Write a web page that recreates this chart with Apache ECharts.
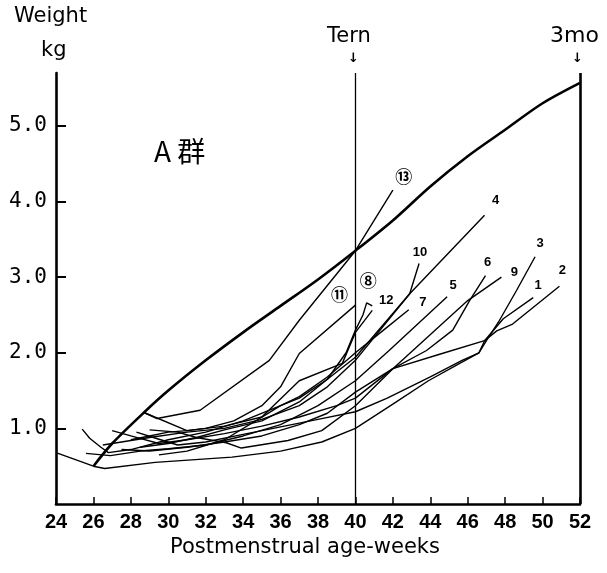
<!DOCTYPE html>
<html>
<head>
<meta charset="UTF-8">
<title>A群</title>
<style>html,body{margin:0;padding:0;background:#fff;}#charts{width:607px;height:573px;}</style>
<script src="https://cdn.jsdelivr.net/npm/echarts@6/dist/echarts.min.js"></script>
</head>
<body>
<div id="charts"></div>
<script>
// x ticks (postmenstrual weeks) and y ticks (kg)
var weekTicks = [24, 26, 28, 30, 32, 34, 36, 38, 40, 42, 44, 46, 48, 50, 52];
var kgTicks = [1, 2, 3, 4, 5];

// reference (standard) curve, drawn thick
var standard = [[26,0.5],[27,0.8],[28.7,1.21],[30,1.5],[32,1.9],[34,2.27],[36,2.62],[38,2.97],[40,3.35],[42,3.75],[44,4.2],[46,4.6],[48,4.95],[50,5.3],[52,5.57]];

// each infant: [week, kg]
var infant1 = [[27,0.97],[28,0.9],[29.5,0.8],[31,0.85],[33,0.93],[35,1.03],[37,1.15],[39,1.3],[40,1.4],[42,1.79],[44.5,1.98],[46.9,2.16],[47.9,2.45],[49.5,2.73]];
var infant2 = [[24,0.68],[26,0.5],[26.6,0.47],[29.3,0.55],[33.4,0.62],[36,0.7],[38.2,0.82],[40,1.0],[42,1.32],[43.9,1.63],[45.5,1.85],[46.6,2.0],[46.9,2.16],[47.55,2.29],[48.4,2.38],[50.9,2.88]];
var infant3 = [[28.3,0.95],[29.2,0.88],[30.5,0.78],[32,0.82],[34,0.92],[36,1.02],[38,1.12],[40,1.22],[41.7,1.4],[44,1.68],[45.7,1.9],[46.6,2.0],[47,2.16],[47.7,2.43],[48.6,2.82],[49.6,3.27]];
var infant4 = [[25.4,0.99],[25.8,0.87],[26.4,0.75],[26.8,0.68],[28,0.72],[30,0.85],[32,0.95],[34,1.1],[36,1.3],[37,1.4],[38.5,1.65],[40,1.94],[42.9,2.78],[46.9,3.82]];
var infant5 = [[25.6,0.67],[26.9,0.64],[28.5,0.7],[30,0.73],[32,0.78],[34,0.9],[36,1.05],[38,1.3],[40,1.63],[41.8,2.03],[44.9,2.74]];
var infant6 = [[27.5,0.72],[29,0.7],[31,0.75],[33,0.82],[35,0.9],[37,1.05],[38.5,1.2],[40,1.48],[42,1.79],[43.8,2.03],[45.2,2.3],[46.1,2.69],[46.95,3.02]];
var infant7 = [[28,0.85],[29,0.9],[30,0.95],[31,0.97],[33,1.03],[35,1.15],[36,1.3],[37,1.42],[38.5,1.68],[40,2.0],[41.5,2.3],[42.85,2.57]];
var infant8 = [[28.5,0.75],[30,0.8],[31.5,0.88],[33,0.98],[35,1.1],[37,1.35],[38.5,1.65],[39.5,2.0],[40,2.3],[40.4,2.5],[40.6,2.66],[40.9,2.62]];
var infant9 = [[29,0.98],[30.5,0.95],[31.5,0.88],[33.1,0.81],[33.9,0.74],[36.4,0.84],[38.2,0.97],[40,1.3],[42,1.79],[46,2.69],[47.8,3.0]];
var infant10 = [[26.5,0.78],[27.5,0.82],[29,0.88],[31,0.95],[33,1.0],[35,1.12],[37,1.3],[38.5,1.55],[40,1.9],[42.9,2.78],[43.4,3.18]];
var infant11 = [[28.7,1.21],[31,0.97],[32,1.0],[33.5,1.1],[35,1.3],[36,1.55],[37,1.99],[40,2.63]];
var infant12 = [[29.5,0.65],[31,0.7],[33,0.85],[35,1.15],[37,1.63],[39.3,1.86],[40,2.27],[40.9,2.56]];
var infant13 = [[28.7,1.21],[29.4,1.13],[31.7,1.24],[35.4,1.9],[37,2.43],[40,3.35],[42,4.15]];

var infantLabels = ['1', '2', '3', '4', '5', '6', '7', '⑧', '9', '10', '⑪', '12', '⑬'];

var mycharts = echarts.init(document.getElementById('charts'));

var infants = [infant1, infant2, infant3, infant4, infant5, infant6, infant7, infant8, infant9, infant10, infant11, infant12, infant13];
// label offsets from the end of each line (px)
var labelOffsets = [[5,-12],[3,-16],[5,-13],[11,-15],[6,-11],[2,-13],[14,-7],[-4,-24],[13,-5],[1,-11],[-16,-9],[14,-10],[11,-12]];

var series = infants.map(function (d, i) {
    var circled = infantLabels[i].length === 1 && infantLabels[i] > '9';
    return {
        name: infantLabels[i],
        type: 'line',
        data: d,
        symbol: 'none',
        silent: true,
        lineStyle: { color: '#000', width: 1.4 },
        endLabel: {
            show: true,
            formatter: infantLabels[i],
            distance: 0,
            offset: labelOffsets[i],
            align: 'center',
            verticalAlign: 'middle',
            color: '#000',
            fontSize: circled ? 17 : 13,
            fontWeight: 'bold',
            fontFamily: "'Liberation Sans', 'Noto Sans CJK JP'"
        }
    };
});

series.push({
    name: 'standard',
    type: 'line',
    data: standard,
    symbol: 'none',
    smooth: 0.3,
    silent: true,
    lineStyle: { color: '#000', width: 2.6 },
    markLine: {
        silent: true,
        symbol: 'none',
        label: { show: false },
        data: [
            { xAxis: 40, lineStyle: { color: '#000', width: 1.3, type: 'solid' } },
            { xAxis: 52, lineStyle: { color: '#000', width: 2.6, type: 'solid' } }
        ]
    }
});

var option = {
    animation: false,
    backgroundColor: '#fff',
    grid: { left: 56, right: 27, top: 73, bottom: 69 },
    xAxis: {
        type: 'value',
        min: weekTicks[0],
        max: weekTicks[weekTicks.length - 1],
        interval: 2,
        splitLine: { show: false },
        axisLine: { lineStyle: { color: '#000', width: 2.6 } },
        axisTick: { inside: true, length: 7, lineStyle: { color: '#000', width: 1.5 } },
        axisLabel: {
            color: '#000', fontSize: 20, margin: 8, fontWeight: 'bold',
            fontFamily: "'Liberation Sans', sans-serif"
        }
    },
    yAxis: {
        type: 'value',
        min: 0,
        max: 5.7,
        interval: 1,
        splitLine: { show: false },
        axisLine: { onZero: false, lineStyle: { color: '#000', width: 2.6 } },
        axisTick: { inside: true, length: 10, lineStyle: { color: '#000', width: 2 } },
        axisLabel: {
            color: '#000', fontSize: 21, margin: 9,
            fontFamily: "'DejaVu Sans Mono'",
            showMinLabel: false, showMaxLabel: false,
            formatter: function (v) { return kgTicks.indexOf(v) >= 0 ? v.toFixed(1) : ''; }
        }
    },
    graphic: [
        { type: 'text', left: 14, top: 6, style: { text: 'Weight', fontSize: 21, fontFamily: 'DejaVu Sans', fill: '#000' } },
        { type: 'text', left: 41, top: 40, style: { text: 'kg', fontSize: 21, fontFamily: 'DejaVu Sans', fill: '#000' } },
        { type: 'text', left: 327, top: 26, style: { text: 'Tern', fontSize: 21, fontFamily: 'DejaVu Sans', fill: '#000' } },
        { type: 'text', left: 348, top: 52, style: { text: '↓', fontSize: 13, fontWeight: 'bold', fontFamily: 'DejaVu Sans', fill: '#000' } },
        { type: 'text', left: 550, top: 25, style: { text: '3mo', fontSize: 22, fontFamily: 'DejaVu Sans', fill: '#000' } },
        { type: 'text', left: 572, top: 52, style: { text: '↓', fontSize: 13, fontWeight: 'bold', fontFamily: 'DejaVu Sans', fill: '#000' } },
        { type: 'text', left: 154, top: 137, style: { text: 'A 群', fontSize: 28, fontFamily: "'Noto Sans CJK JP'", fill: '#000' } },
        { type: 'text', left: 170, top: 537, style: { text: 'Postmenstrual age-weeks', fontSize: 21, fontFamily: 'DejaVu Sans', fill: '#000' } }
    ],
    series: series
};
mycharts.setOption(option);
</script>
</body>
</html>
